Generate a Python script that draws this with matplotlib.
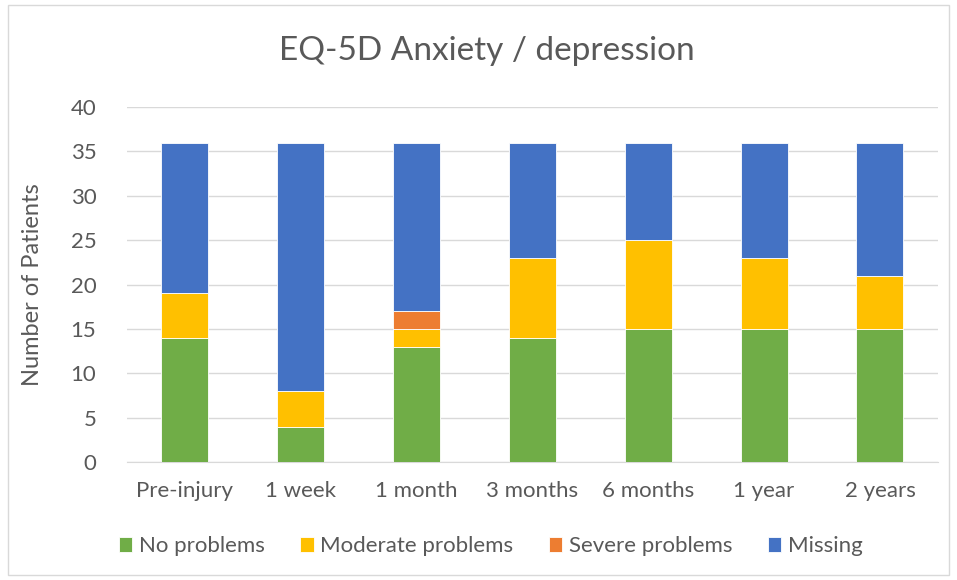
import numpy as np
import matplotlib.pyplot as plt
from matplotlib.patches import Rectangle

categories = ['Pre-injury', '1 week', '1 month', '3 months', '6 months', '1 year', '2 years']
no_problems = [14, 4, 13, 14, 15, 15, 15]
moderate = [5, 4, 2, 9, 10, 8, 6]
severe = [0, 0, 2, 0, 0, 0, 0]
missing = [17, 28, 19, 13, 11, 13, 15]

series = [('No problems', no_problems, '#70AD47'),
          ('Moderate problems', moderate, '#FFC000'),
          ('Severe problems', severe, '#ED7D31'),
          ('Missing', missing, '#4472C4')]

plt.rcParams['font.family'] = ['Lato', 'DejaVu Sans']
txt = '#595959'

fig = plt.figure(figsize=(9.57, 5.8), dpi=100)
ax = fig.add_axes([0.1327, 0.2034, 0.8473, 0.6121])
fig.patches.append(Rectangle((0.008, 0.008), 0.984, 0.984, transform=fig.transFigure,
                             fill=False, edgecolor='#D9D9D9', linewidth=1))

x = np.arange(len(categories))
bottom = np.zeros(len(categories))
for name, vals, col in series:
    ax.bar(x, vals, 0.405, bottom=bottom, color=col, label=name,
           edgecolor='white', linewidth=0.6, zorder=3)
    bottom += np.array(vals)

ax.set_xlim(-0.5, len(categories) - 0.5)
ax.set_ylim(0, 40)
ax.set_yticks(range(0, 41, 5))
ax.set_xticks(x)
ax.set_xticklabels(categories)
ax.tick_params(axis='both', length=0, labelsize=16, colors=txt)
ax.tick_params(axis='y', pad=22)
ax.tick_params(axis='x', pad=14)
ax.grid(axis='y', color='#D9D9D9', linewidth=1, zorder=0)
for s in ['top', 'right', 'left']:
    ax.spines[s].set_visible(False)
ax.spines['bottom'].set_color('#D9D9D9')
ax.set_ylabel('Number of Patients', fontsize=17, color=txt, labelpad=20)

fig.text(0.509, 0.912, 'EQ-5D Anxiety / depression', ha='center', va='center',
         fontsize=24, color=txt)

leg = fig.legend(loc='center', bbox_to_anchor=(0.513, 0.058), ncol=4, frameon=False,
                 fontsize=16, handlelength=0.6, handleheight=0.6, handletextpad=0.3,
                 columnspacing=1.6)
for t in leg.get_texts():
    t.set_color(txt)

fig.savefig('out.png', dpi=100)
